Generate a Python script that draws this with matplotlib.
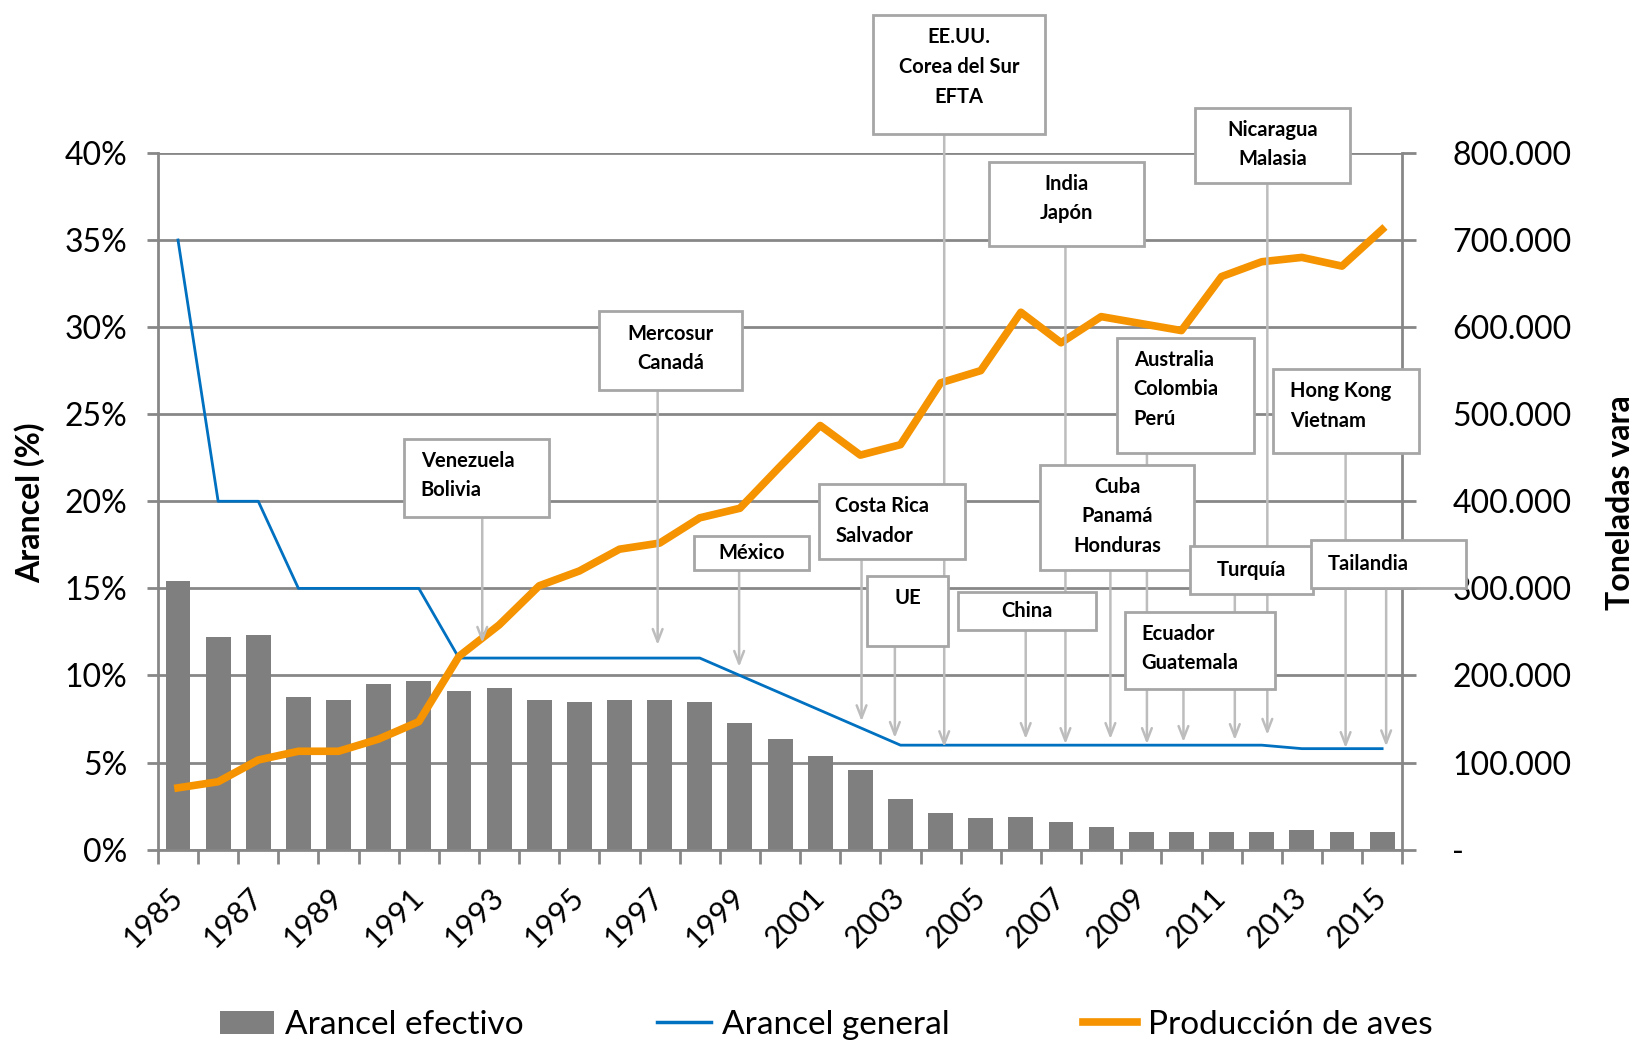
import numpy as np
import matplotlib
matplotlib.use("Agg")
import matplotlib.pyplot as plt
from matplotlib.patches import Rectangle, Patch
from matplotlib.lines import Line2D

plt.rcParams['font.family'] = ['Lato', 'DejaVu Sans']

# ---- data ----
years = np.arange(1985, 2016)

# Arancel efectivo (%)
arancel_efectivo = [15.4, 12.2, 12.3, 8.75, 8.6, 9.5, 9.7, 9.1, 9.3, 8.6,
                    8.45, 8.6, 8.6, 8.45, 7.3, 6.35, 5.35, 4.55, 2.9, 2.1,
                    1.8, 1.9, 1.6, 1.3, 1.0, 1.0, 1.0, 1.0, 1.15, 1.0, 1.0]

# Arancel general (%)
arancel_general = [35, 20, 20, 15, 15, 15, 15, 11, 11, 11,
                   11, 11, 11, 11, 10, 9, 8, 7, 6, 6,
                   6, 6, 6, 6, 6, 6, 6, 6, 5.8, 5.8, 5.8]

# Produccion de aves (toneladas)
produccion_aves = [71000, 78000, 103000, 113000, 113000, 127000, 147000, 222000,
                   258000, 303000, 320000, 345000, 352000, 381000, 392000, 440000,
                   487000, 453000, 465000, 536000, 550000, 617000, 582000, 612000,
                   604000, 596000, 658000, 675000, 680000, 670000, 712000]

# acuerdos comerciales: text, box (x0, x1, top, bottom), alignment
acuerdos = [
    ("EE.UU.\nCorea del Sur\nEFTA", 2002.32, 2006.59, 47.9, 41.1, 'center'),
    ("India\nJapón", 2005.21, 2009.06, 39.5, 34.65, 'center'),
    ("Nicaragua\nMalasia", 2010.34, 2014.19, 42.6, 38.25, 'center'),
    ("Mercosur\nCanadá", 1995.49, 1999.04, 30.9, 26.4, 'center'),
    ("Venezuela\nBolivia", 1990.63, 1994.24, 23.6, 19.1, 'left'),
    ("México", 1997.86, 2000.73, 17.98, 16.07, 'center'),
    ("Costa Rica\nSalvador", 2000.96, 2004.61, 20.98, 16.67, 'left'),
    ("UE", 2002.16, 2004.19, 15.7, 11.7, 'center'),
    ("China", 2004.43, 2007.86, 14.8, 12.6, 'center'),
    ("Cuba\nPanamá\nHonduras", 2006.48, 2010.31, 22.1, 16.07, 'center'),
    ("Australia\nColombia\nPerú", 2008.39, 2011.8, 29.4, 22.8, 'left'),
    ("Ecuador\nGuatemala", 2008.59, 2012.34, 13.67, 9.23, 'left'),
    ("Turquía", 2010.21, 2013.28, 17.45, 14.69, 'center'),
    ("Hong Kong\nVietnam", 2012.29, 2015.91, 27.6, 22.8, 'left'),
    ("Tailandia", 2013.23, 2017.1, 17.8, 15.05, 'left'),
]

# arrows: x, start y, tip y (left axis units)
flechas = [
    (1992.58, 19.12, 11.87), (1996.95, 26.44, 11.75), (1998.98, 16.07, 10.49),
    (2002.03, 16.67, 7.37), (2002.86, 11.69, 6.41), (2004.09, 41.13, 5.88),
    (2006.12, 12.59, 6.35), (2007.11, 34.65, 6.06), (2008.23, 16.07, 6.35),
    (2009.14, 22.84, 6.06), (2010.05, 9.23, 6.18), (2011.33, 14.69, 6.29),
    (2012.14, 38.25, 6.59), (2014.09, 22.84, 5.83), (2015.1, 15.05, 5.93),
]

GRAY = '#878787'
BAR = '#7f7f7f'
BLUE = '#0070c0'
ORANGE = '#f59300'

fig = plt.figure(figsize=(16.4, 10.4), dpi=100)
ax = fig.add_axes([0.0963, 0.183, 0.855 - 0.0963, 0.853 - 0.183])
ax2 = ax.twinx()

ax.bar(years, arancel_efectivo, width=0.62, color=BAR, zorder=2)
ax.plot(years, arancel_general, color=BLUE, lw=2, zorder=3)
ax2.plot(years, produccion_aves, color=ORANGE, lw=5.5, zorder=3)

ax.set_xlim(1984.5, 2015.5)
ax.set_ylim(0, 40)
ax2.set_ylim(0, 800000)

ax.set_yticks(np.arange(0, 41, 5))
ax.set_yticklabels(['%d%%' % v for v in range(0, 41, 5)])
ax2.set_yticks(np.arange(0, 800001, 100000))
ax2.set_yticklabels(['-'] + ['{:,}'.format(v).replace(',', '.') for v in range(100000, 800001, 100000)])

ax.grid(axis='y', color=GRAY, lw=2)
ax.set_axisbelow(True)

ax.set_xticks(years[::2])
ax.set_xticklabels([str(y) for y in years[::2]], rotation=45, ha='right',
                   va='center', rotation_mode='anchor')
ax.set_xticks(np.arange(1984.5, 2016, 1), minor=True)
ax.tick_params(axis='x', which='major', length=0, pad=31, labelsize=22)
ax.tick_params(axis='x', which='minor', length=10, width=2, color=GRAY)
ax.tick_params(axis='y', length=8, width=2, color=GRAY, labelsize=23, pad=14)
ax2.tick_params(axis='y', length=10, width=2, color=GRAY, labelsize=23, pad=26)

for s in ['top']:
    ax.spines[s].set_visible(False)
    ax2.spines[s].set_visible(False)
for s in ['left', 'bottom']:
    ax.spines[s].set_color(GRAY)
    ax.spines[s].set_linewidth(2)
ax.spines['right'].set_visible(False)
ax2.spines['left'].set_visible(False)
ax2.spines['bottom'].set_visible(False)
ax2.spines['right'].set_color(GRAY)
ax2.spines['right'].set_linewidth(2)

fig.text(0.018, 0.517, 'Arancel (%)', rotation=90, ha='center', va='center',
         fontsize=23, fontweight='bold')
fig.text(0.988, 0.517, 'Toneladas vara', rotation=90, ha='center', va='center',
         fontsize=23, fontweight='bold')

# arrows and boxes for the trade agreements
for x, y0, y1 in flechas:
    ax2.annotate('', xy=(x, y1), xytext=(x, y0), xycoords=ax.transData,
                 textcoords=ax.transData, annotation_clip=False, zorder=5,
                 arrowprops=dict(arrowstyle='->,head_length=0.9,head_width=0.35',
                                 color='#bdbdbd', lw=1.8, shrinkA=0, shrinkB=0))

for txt, x0, x1, top, bot, al in acuerdos:
    r = Rectangle((x0, bot), x1 - x0, top - bot, transform=ax.transData,
                  facecolor='white', edgecolor='#a6a6a6', lw=2, zorder=6, clip_on=False)
    ax2.add_patch(r)
    if top - bot < 3.5:
        ty, va = (top + bot) / 2, 'center'
    else:
        ty, va = top - 0.7, 'top'
    tx = (x0 + x1) / 2 if al == 'center' else x0 + 0.42
    ax2.text(tx, ty, txt, transform=ax.transData, ha=al, va=va, fontsize=14.5,
             fontweight='bold', linespacing=1.6, zorder=7, clip_on=False)

handles = [Patch(facecolor=BAR), Line2D([], [], color=BLUE, lw=2.5),
           Line2D([], [], color=ORANGE, lw=5.5)]
fig.legend(handles, ['Arancel efectivo', 'Arancel general', 'Producción de aves'],
           ncol=3, loc='center', bbox_to_anchor=(0.504, 0.0144), frameon=False,
           fontsize=24, handlelength=1.6, handletextpad=0.35, columnspacing=4.0)

fig.savefig('out.png', dpi=100)
